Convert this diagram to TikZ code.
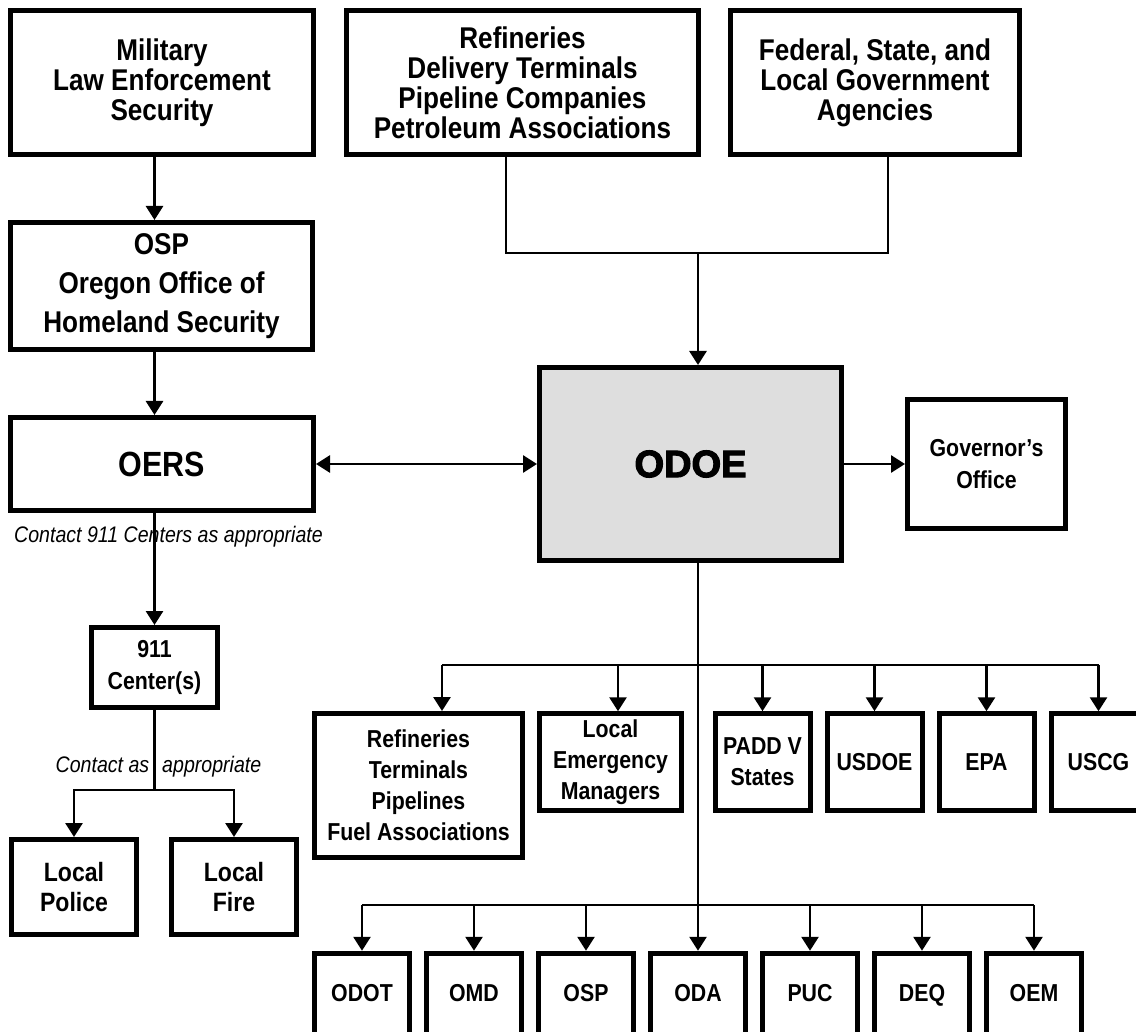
\documentclass[tikz,border=0pt]{standalone}
\usepackage{fontspec}
\setmainfont{Liberation Sans}[FakeStretch=0.87]
\newfontfamily\headfont{Liberation Sans}[FakeBold=3]
\usepackage{tikz}
\usetikzlibrary{arrows.meta,calc,positioning}
\newdimen\sdim
\newdimen\rdim
\sdim=95pt
\rdim=96.5pt
\tikzstyle{element}=[
  draw=black,
  fill=white,
  font={\fontsize{30}{30}\selectfont\bfseries},
  inner sep=0pt,
  line width=5pt,
  rectangle,
  align=center,
]
\tikzstyle{small}=[
  element,
  font={\fontsize{24.5}{31}\selectfont\bfseries},
  minimum width=\sdim,
  minimum height=\rdim,
]
\tikzstyle{rowbox}=[
  small,
  minimum height=83.5pt,
  text height=18pt,
  text depth=5pt,
]
\tikzstyle{arrow}=[
  color=black,
  draw=black,
  line width=2.8pt,
]
\tikzstyle{note}=[
  font={\fontsize{22.5}{24}\selectfont\itshape},
  inner sep=0pt,
]
\tikzset{
  x=1pt, y=-1pt,
  node distance=12pt,
  >={Triangle[length=14pt,width=17pt]},
}

\begin{document}
\begin{tikzpicture}
      \path [use as bounding box, fill=white] (0,0) rectangle (1136,1032);
      %% sources
      \node (military) [element, minimum width=303pt, minimum height=144pt] at (162,82.5)
        {Military\\Law Enforcement\\Security};
      \node (refin) [element, minimum width=352pt, minimum height=144pt] at (522.5,82.5)
        {Refineries\\Delivery Terminals\\Pipeline Companies\\Petroleum Associations};
      \node (federal) [element, minimum width=289pt, minimum height=144pt] at (875,82.5)
        {Federal, State, and\\Local Government\\Agencies};
      %% left column
      \node (osp) [element, minimum width=302pt, minimum height=127pt] at (161.5,286)
        {OSP\\[9pt]Oregon Office of\\[9pt]Homeland Security};
      \node (oers) [element, minimum width=303pt, minimum height=93pt,
        font={\fontsize{35}{36}\selectfont\bfseries}] at (162,464) {OERS};
      \node (c911) [element, minimum width=126pt, minimum height=80pt,
        font={\fontsize{24.5}{32}\selectfont\bfseries}] at (154.5,667.5) {911\\Center(s)};
      \node (police) [element, minimum width=125pt, minimum height=95pt,
        font={\fontsize{26.5}{30}\selectfont\bfseries}] at (74,887) {Local\\Police};
      \node (fire) [element, minimum width=125pt, minimum height=95pt,
        font={\fontsize{26.5}{30}\selectfont\bfseries}] at (234,887) {Local\\Fire};
      %% centre
      \node (odoe) [element, fill=black!13, minimum width=302pt, minimum height=193pt,
        font={\headfont\fontsize{38}{40}\selectfont\bfseries}] at (690.5,464) {ODOE};
      \node (gov) [element, minimum width=158pt, minimum height=128pt,
        font={\fontsize{24.5}{32}\selectfont\bfseries}] at (986.5,464) {Governor’s\\Office};
      %% first row
      \node (refin2) [small, minimum width=208pt, minimum height=144pt] at (418.5,785.5)
        {Refineries\\Terminals\\Pipelines\\Fuel Associations};
      \node (lem) [small, minimum width=142pt] at (610.5,762) {Local\\Emergency\\Managers};
      \node (padd) [small] at (762.5,762) {PADD V\\States};
      \node (usdoe) [small, right=of padd] {USDOE};
      \node (epa) [small, right=of usdoe] {EPA};
      \node (uscg) [small, right=of epa] {USCG};
      %% second row
      \node (odot) [rowbox] at (362,995) {ODOT};
      \node (omd) [rowbox, right=of odot] {OMD};
      \node (ospb) [rowbox, right=of omd] {OSP};
      \node (oda) [rowbox, right=of ospb] {ODA};
      \node (puc) [rowbox, right=of oda] {PUC};
      \node (deq) [rowbox, right=of puc] {DEQ};
      \node (oem) [rowbox, right=of deq] {OEM};
      %% notes
      \node (note911) [note] at (168.5,537) {Contact 911 Centers as appropriate};
      \node (notelocal) [note] at (158.5,767) {Contact as\hspace{13pt}appropriate};
      %% left chain
      \draw [->, arrow] (military.south -| c911) -- (osp.north -| c911);
      \draw [->, arrow] (osp.south -| c911) -- (oers.north -| c911);
      \draw [->, arrow] (oers.south -| c911) -- (c911.north);
      \coordinate (split) at (154.5,790);
      \draw [arrow] (c911) -- (split);
      \draw [->, arrow] (split) -| (police);
      \draw [->, arrow] (split) -| (fire);
      %% sources into ODOE
      \coordinate (rj) at (506,253);
      \coordinate (fj) at (888,253);
      \coordinate (spine) at (698,253);
      \draw [arrow] (rj |- refin.south) -- (rj) -- (fj) -- (fj |- federal.south);
      \draw [->, arrow] (spine) -- (spine |- odoe.north);
      \draw [<->, arrow] (oers) -- (odoe);
      \draw [->, arrow] (odoe) -- (gov);
      %% ODOE down to both rows
      \coordinate (bus1) at (698,665);
      \coordinate (bus2) at (698,905);
      \coordinate (b1l) at (442,665);
      \coordinate (b1m) at (618,665);
      \draw [arrow] (spine |- odoe.south) -- (bus2);
      \draw [arrow] (b1l) -- (uscg.north |- bus1);
      \draw [->, arrow] (b1l) -- (b1l |- refin2.north);
      \draw [->, arrow] (b1m) -- (b1m |- lem.north);
      \draw [->, arrow] (padd.north |- bus1) -- (padd.north);
      \draw [->, arrow] (usdoe.north |- bus1) -- (usdoe.north);
      \draw [->, arrow] (epa.north |- bus1) -- (epa.north);
      \draw [->, arrow] (uscg.north |- bus1) -- (uscg.north);
      \draw [arrow] (odot.north |- bus2) -- (oem.north |- bus2);
      \draw [->, arrow] (odot.north |- bus2) -- (odot.north);
      \draw [->, arrow] (omd.north |- bus2) -- (omd.north);
      \draw [->, arrow] (ospb.north |- bus2) -- (ospb.north);
      \draw [->, arrow] (oda.north |- bus2) -- (oda.north);
      \draw [->, arrow] (puc.north |- bus2) -- (puc.north);
      \draw [->, arrow] (deq.north |- bus2) -- (deq.north);
      \draw [->, arrow] (oem.north |- bus2) -- (oem.north);
    \end{tikzpicture}
\end{document}
